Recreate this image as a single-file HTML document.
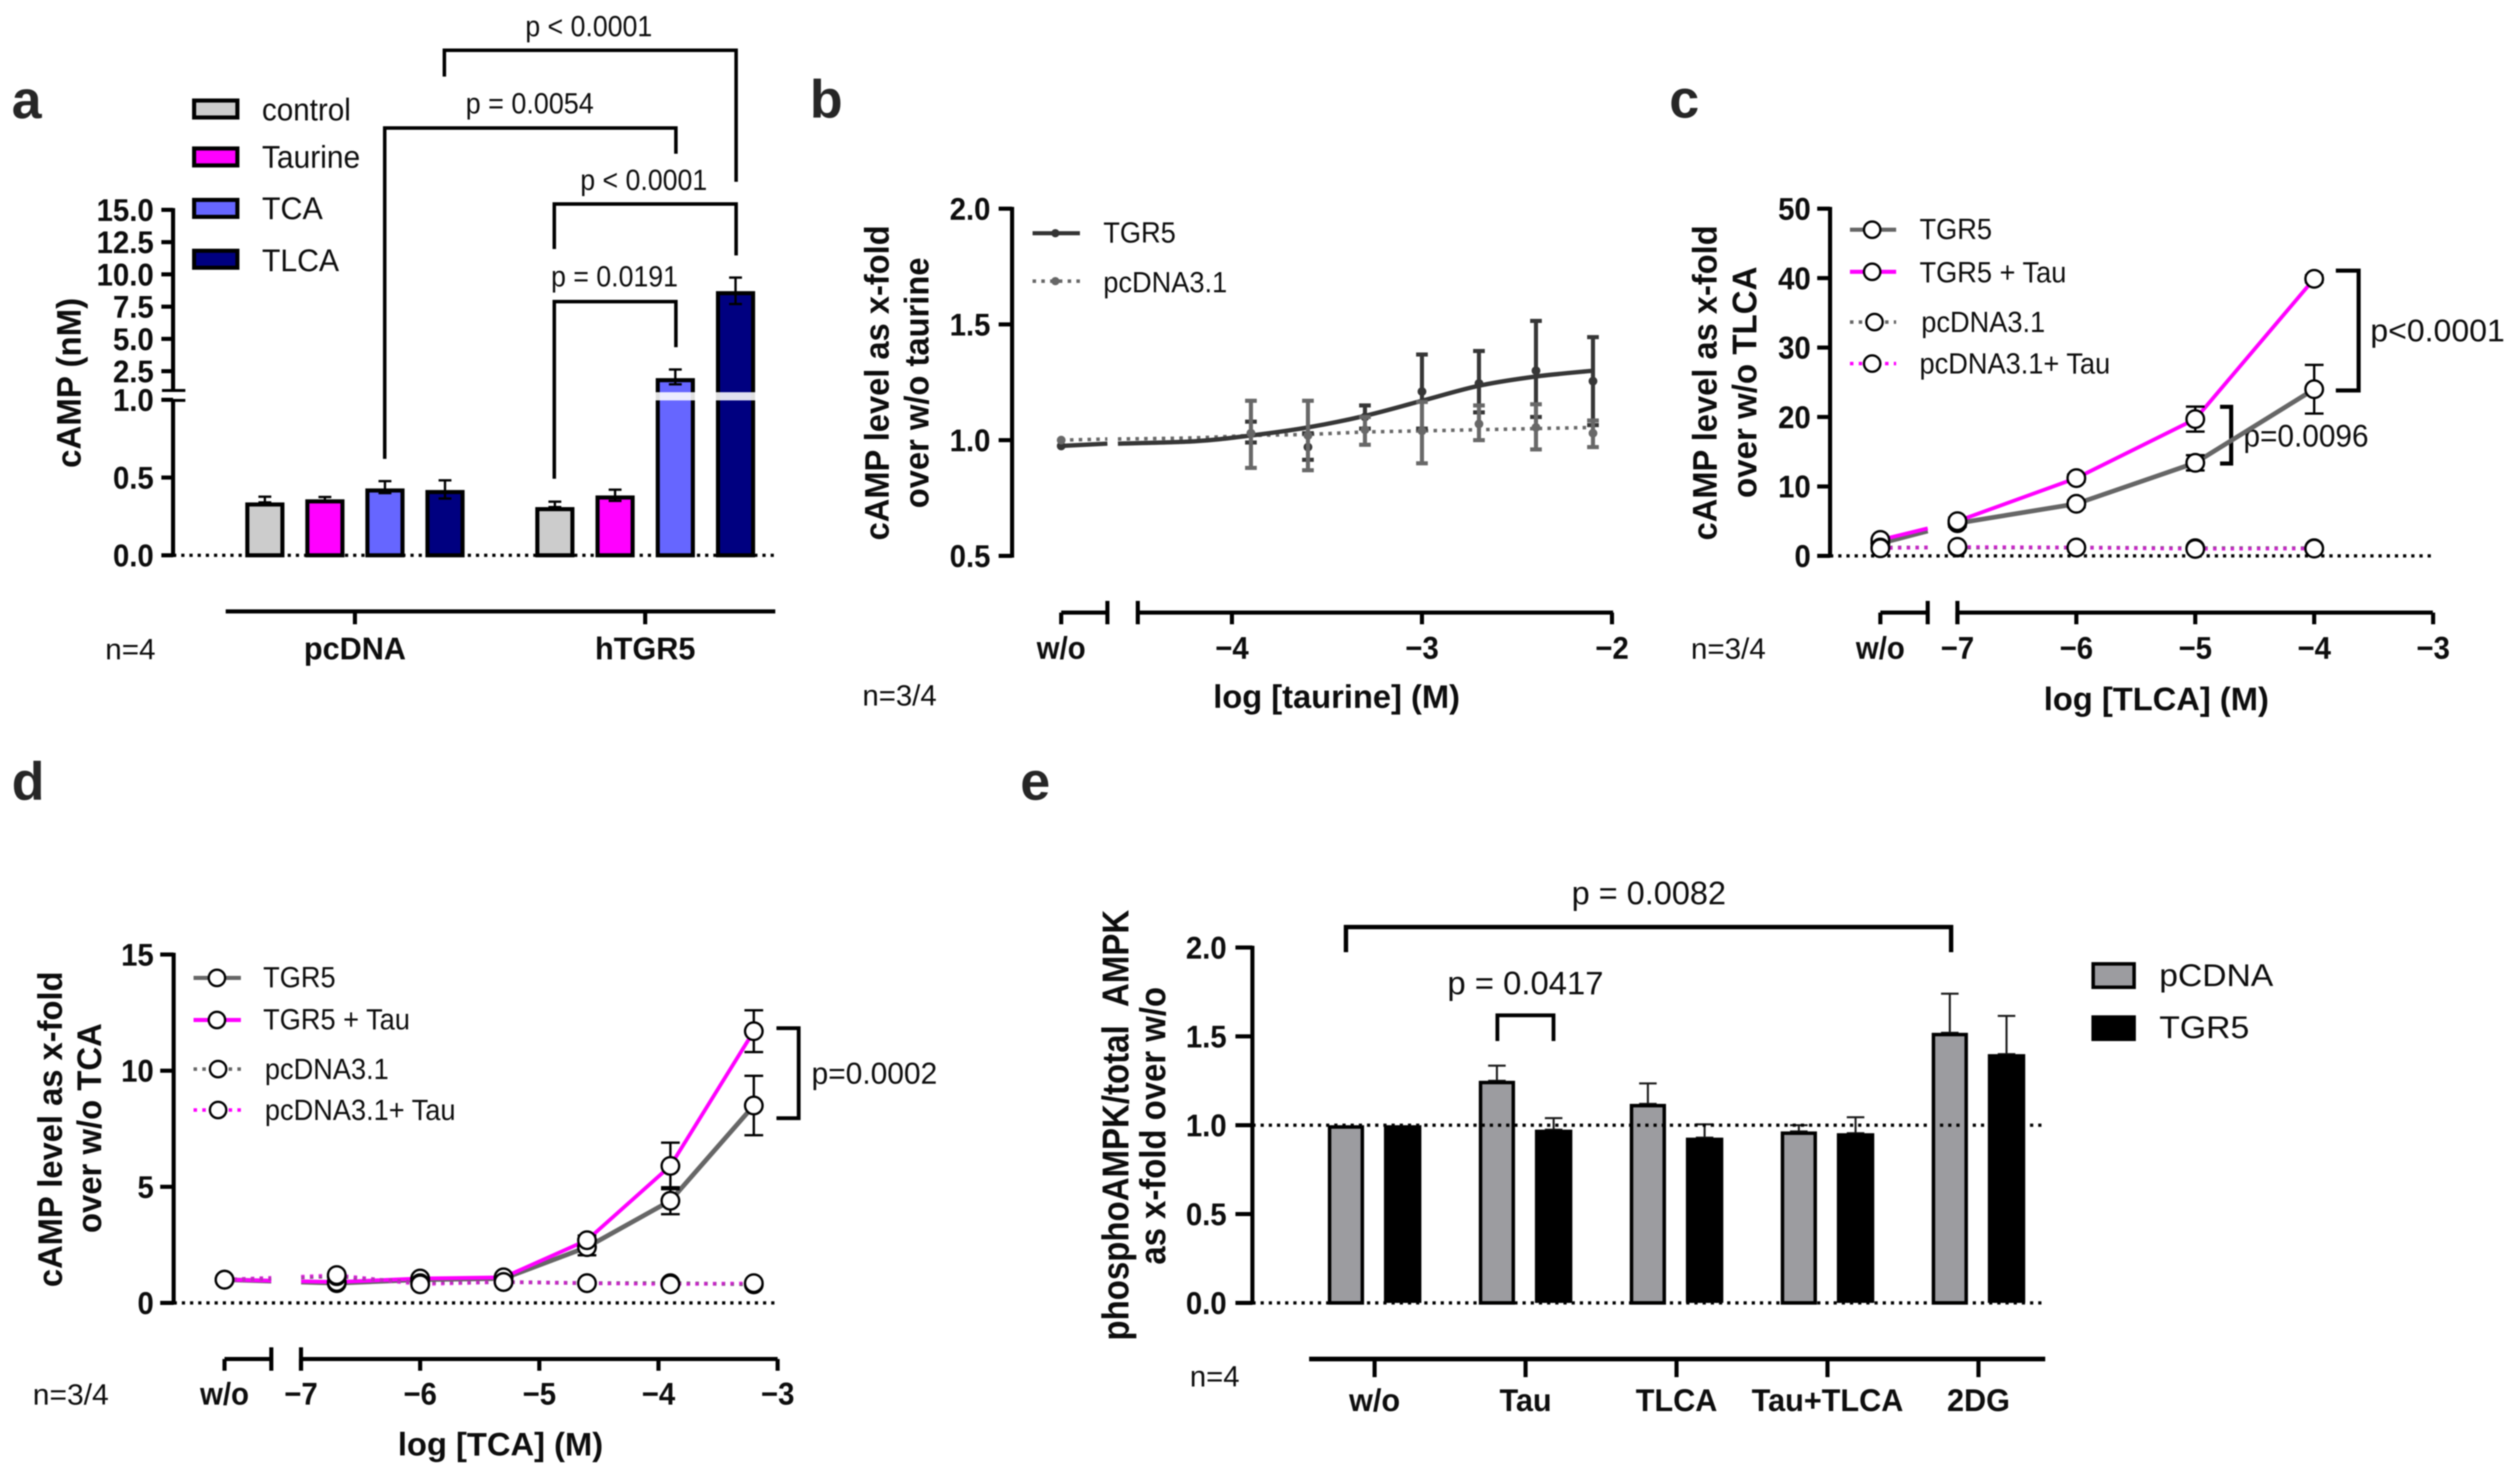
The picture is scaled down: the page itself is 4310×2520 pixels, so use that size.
<!DOCTYPE html>
<html lang="en">
<head>
<meta charset="utf-8">
<title>cAMP and AMPK response panels</title>
<style>
html,body{margin:0;padding:0;background:#fff;width:4310px;height:2520px;overflow:hidden}
svg{display:block;font-family:"Liberation Sans",Arial,sans-serif;filter:blur(1.1px)}
text{fill:#0d0d0d}
.tick{font-size:54px;font-weight:700}
.b{font-weight:700}
.plabel{font-size:92px;font-weight:700;fill:#262626}
.leg{font-size:50px}
.br{stroke:#000;stroke-width:6;fill:none}
</style>
</head>
<body>
<svg id="fig" xmlns="http://www.w3.org/2000/svg" width="4310" height="2520" viewBox="0 0 4310 2520">
<rect width="4310" height="2520" fill="#fff"/>

<!-- PANEL A static -->
<g id="panel-a">
<text class="plabel" x="20" y="202">a</text>
<text class="b" font-size="58" text-anchor="middle" textLength="291" lengthAdjust="spacingAndGlyphs" transform="translate(138 655) rotate(-90)">cAMP (nM)</text>
<g>
<rect x="332" y="172" width="74" height="29" fill="#cccccc" stroke="#000" stroke-width="7"/>
<text x="448" y="206" font-size="54" textLength="152" lengthAdjust="spacingAndGlyphs">control</text>
<rect x="332" y="254" width="74" height="29" fill="#ff00ff" stroke="#000" stroke-width="7"/>
<text x="448" y="287" font-size="54" textLength="168" lengthAdjust="spacingAndGlyphs">Taurine</text>
<rect x="332" y="342" width="74" height="29" fill="#6666ff" stroke="#000" stroke-width="7"/>
<text x="448" y="375" font-size="54" textLength="104" lengthAdjust="spacingAndGlyphs">TCA</text>
<rect x="332" y="429" width="74" height="29" fill="#000080" stroke="#000" stroke-width="7"/>
<text x="448" y="464" font-size="54" textLength="132" lengthAdjust="spacingAndGlyphs">TLCA</text>
</g>
<path class="br" d="M760 131V86H1259V311"/>
<text x="1007" y="62" font-size="50" text-anchor="middle" textLength="217" lengthAdjust="spacingAndGlyphs">p &lt; 0.0001</text>
<path class="br" d="M658 785V219H1156V263"/>
<text x="906" y="194" font-size="50" text-anchor="middle" textLength="219" lengthAdjust="spacingAndGlyphs">p = 0.0054</text>
<path class="br" d="M948 426V349H1259V437"/>
<text x="1101" y="325" font-size="50" text-anchor="middle" textLength="217" lengthAdjust="spacingAndGlyphs">p &lt; 0.0001</text>
<path class="br" d="M948 819V516H1156V594"/>
<text x="1051" y="490" font-size="50" text-anchor="middle" textLength="217" lengthAdjust="spacingAndGlyphs">p = 0.0191</text>
<text x="180" y="1128" font-size="50" textLength="86" lengthAdjust="spacingAndGlyphs">n=4</text>
</g>

<!-- PANEL B static -->
<g id="panel-b">
<text class="plabel" x="1385" y="201">b</text>
<text class="b" font-size="58" text-anchor="middle" textLength="539" lengthAdjust="spacingAndGlyphs" transform="translate(1520 655) rotate(-90)">cAMP level as x-fold</text>
<text class="b" font-size="58" text-anchor="middle" textLength="429" lengthAdjust="spacingAndGlyphs" transform="translate(1588 655) rotate(-90)">over w/o taurine</text>
<text class="b" font-size="56" x="2286" y="1211" text-anchor="middle" textLength="422" lengthAdjust="spacingAndGlyphs">log [taurine] (M)</text>
<text x="1475" y="1207" font-size="50" textLength="127" lengthAdjust="spacingAndGlyphs">n=3/4</text>
<g>
<line x1="1766" x2="1847" y1="399" y2="399" stroke="#333" stroke-width="7"/>
<circle cx="1805" cy="399" r="7" fill="#333"/>
<text class="leg" x="1887" y="415">TGR5</text>
<line x1="1766" x2="1847" y1="481" y2="481" stroke="#666" stroke-width="6" stroke-dasharray="6 9"/>
<circle cx="1805" cy="481" r="7" fill="#666"/>
<text class="leg" x="1887" y="500">pcDNA3.1</text>
</g>
</g>

<!-- PANEL C static -->
<g id="panel-c">
<text class="plabel" x="2855" y="201">c</text>
<text class="b" font-size="58" text-anchor="middle" textLength="539" lengthAdjust="spacingAndGlyphs" transform="translate(2936 655) rotate(-90)">cAMP level as x-fold</text>
<text class="b" font-size="58" text-anchor="middle" textLength="396" lengthAdjust="spacingAndGlyphs" transform="translate(3004 654) rotate(-90)">over w/o TLCA</text>
<text class="b" font-size="56" x="3688" y="1215" text-anchor="middle" textLength="385" lengthAdjust="spacingAndGlyphs">log [TLCA] (M)</text>
<text x="2892" y="1127" font-size="50" textLength="128" lengthAdjust="spacingAndGlyphs">n=3/4</text>
<path d="M3995 463H4034V668H3995" fill="none" stroke="#000" stroke-width="7"/>
<text x="4054" y="584" font-size="54" textLength="230" lengthAdjust="spacingAndGlyphs">p&lt;0.0001</text>
<path d="M3797 696H3816V793H3797" fill="none" stroke="#000" stroke-width="7"/>
<text x="3837" y="764" font-size="54" textLength="214" lengthAdjust="spacingAndGlyphs">p=0.0096</text>
<g>
<line x1="3164" x2="3243" y1="393" y2="393" stroke="#666" stroke-width="7"/>
<ellipse cx="3202" cy="393" rx="14" ry="14" fill="#fff" stroke="#000" stroke-width="4"/>
<text class="leg" x="3283" y="409">TGR5</text>
<line x1="3164" x2="3243" y1="465" y2="465" stroke="#ff00ff" stroke-width="7"/>
<ellipse cx="3202" cy="465" rx="14" ry="14" fill="#fff" stroke="#000" stroke-width="4"/>
<text class="leg" x="3283" y="483">TGR5 + Tau</text>
<line x1="3164" x2="3243" y1="551" y2="551" stroke="#666" stroke-width="6" stroke-dasharray="6 9"/>
<ellipse cx="3206" cy="551" rx="14" ry="14" fill="#fff" stroke="#000" stroke-width="4"/>
<text class="leg" x="3286" y="568">pcDNA3.1</text>
<line x1="3164" x2="3243" y1="622" y2="622" stroke="#ff00ff" stroke-width="6" stroke-dasharray="6 9"/>
<ellipse cx="3202" cy="622" rx="14" ry="14" fill="#fff" stroke="#000" stroke-width="4"/>
<text class="leg" x="3283" y="639">pcDNA3.1+ Tau</text>
</g>
</g>

<!-- PANEL D static -->
<g id="panel-d">
<text class="plabel" x="20" y="1368">d</text>
<text class="b" font-size="58" text-anchor="middle" textLength="540" lengthAdjust="spacingAndGlyphs" transform="translate(106 1932) rotate(-90)">cAMP level as x-fold</text>
<text class="b" font-size="58" text-anchor="middle" textLength="359" lengthAdjust="spacingAndGlyphs" transform="translate(173 1930) rotate(-90)">over w/o TCA</text>
<text class="b" font-size="56" x="856" y="2490" text-anchor="middle" textLength="351" lengthAdjust="spacingAndGlyphs">log [TCA] (M)</text>
<text x="56" y="2403" font-size="50" textLength="130" lengthAdjust="spacingAndGlyphs">n=3/4</text>
<path d="M1328 1759H1366V1913H1328" fill="none" stroke="#000" stroke-width="6.5"/>
<text x="1388" y="1854" font-size="52" textLength="215" lengthAdjust="spacingAndGlyphs">p=0.0002</text>
<g>
<line x1="331" x2="412" y1="1673" y2="1673" stroke="#666" stroke-width="7"/>
<ellipse cx="371" cy="1673" rx="14" ry="14" fill="#fff" stroke="#000" stroke-width="4"/>
<text class="leg" x="450" y="1689">TGR5</text>
<line x1="331" x2="412" y1="1745" y2="1745" stroke="#ff00ff" stroke-width="7"/>
<ellipse cx="371" cy="1745" rx="14" ry="14" fill="#fff" stroke="#000" stroke-width="4"/>
<text class="leg" x="450" y="1761">TGR5 + Tau</text>
<line x1="331" x2="412" y1="1829" y2="1829" stroke="#666" stroke-width="6" stroke-dasharray="6 9"/>
<ellipse cx="373" cy="1829" rx="14" ry="14" fill="#fff" stroke="#000" stroke-width="4"/>
<text class="leg" x="453" y="1846">pcDNA3.1</text>
<line x1="331" x2="412" y1="1899" y2="1899" stroke="#ff00ff" stroke-width="6" stroke-dasharray="6 9"/>
<ellipse cx="373" cy="1899" rx="14" ry="14" fill="#fff" stroke="#000" stroke-width="4"/>
<text class="leg" x="453" y="1916">pcDNA3.1+ Tau</text>
</g>
</g>

<!-- PANEL E static -->
<g id="panel-e">
<text class="plabel" x="1745" y="1368">e</text>
<text class="b" font-size="64" text-anchor="middle" textLength="737" lengthAdjust="spacingAndGlyphs" transform="translate(1930 1925) rotate(-90)">phosphoAMPK/total&#160;&#160;AMPK</text>
<text class="b" font-size="62" text-anchor="middle" textLength="475" lengthAdjust="spacingAndGlyphs" transform="translate(1993 1926) rotate(-90)">as x-fold over w/o</text>
<text x="2035" y="2372" font-size="50" textLength="85" lengthAdjust="spacingAndGlyphs">n=4</text>
<path d="M2302 1629V1586H3337V1629" fill="none" stroke="#000" stroke-width="7.5"/>
<text x="2820" y="1547" font-size="56" text-anchor="middle" textLength="264" lengthAdjust="spacingAndGlyphs">p = 0.0082</text>
<path d="M2561 1781V1737H2657V1781" fill="none" stroke="#000" stroke-width="6.5"/>
<text x="2609" y="1701" font-size="56" text-anchor="middle" textLength="267" lengthAdjust="spacingAndGlyphs">p = 0.0417</text>
<g>
<rect x="3580" y="1649" width="70" height="40" fill="#9c9ca0" stroke="#000" stroke-width="6"/>
<text x="3693" y="1687" font-size="54" textLength="195" lengthAdjust="spacingAndGlyphs">pCDNA</text>
<rect x="3577" y="1737" width="76" height="44" fill="#000"/>
<text x="3693" y="1776" font-size="54" textLength="154" lengthAdjust="spacingAndGlyphs">TGR5</text>
</g>
</g>
</svg>

<script>
/* ---------- Panel a data ---------- */
const aGroups = ['pcDNA', 'hTGR5'];
const aTreatments = ['control', 'Taurine', 'TCA', 'TLCA'];
const aColors = ['#cccccc', '#ff00ff', '#6666ff', '#000080'];
const aValues = [0.34, 0.36, 0.43, 0.42, 0.31, 0.385, 1.96, 8.7];
const aErrHigh = [0.377, 0.375, 0.477, 0.482, 0.345, 0.422, 2.63, 9.75];
const aErrLow = [0.34, 0.345, 0.40, 0.365, 0.31, 0.35, 1.48, 7.7];
const aTicksLower = [0, 0.5, 1.0];
const aTicksUpper = [2.5, 5, 7.5, 10, 12.5, 15];

/* ---------- Panel b data ---------- */
const bDoses = [-3.9, -3.6, -3.3, -3, -2.7, -2.4, -2.1];
const bTgr5Mean = [1.03, 0.97, 1.10, 1.21, 1.245, 1.30, 1.255];
const bTgr5High = [1.08, 1.03, 1.15, 1.37, 1.385, 1.515, 1.445];
const bTgr5Low = [0.99, 0.915, 1.05, 1.05, 1.12, 1.10, 1.065];
const bPcdnaMean = [1.03, 1.02, 1.045, 1.04, 1.07, 1.055, 1.03];
const bPcdnaHigh = [1.17, 1.17, 1.10, 1.165, 1.15, 1.155, 1.085];
const bPcdnaLow = [0.88, 0.87, 0.98, 0.90, 1.0, 0.96, 0.97];
const bCurveDoses = [-4.6, -4.2, -3.9, -3.6, -3.3, -3, -2.7, -2.4, -2.1];
const bTgr5Curve = [0.985, 0.995, 1.02, 1.055, 1.105, 1.17, 1.235, 1.275, 1.30];
const bPcdnaCurve = [1.005, 1.01, 1.02, 1.025, 1.035, 1.04, 1.045, 1.05, 1.055];
const bTgr5Wo = [0.975, 0.985];
const bPcdnaWo = [1.0, 1.005];
const bWoTgr5 = 0.975;
const bWoPcdna = 1.0;
const bYTicks = [0.5, 1.0, 1.5, 2.0];
const bXTicks = [-4, -3, -2];

/* ---------- Panel c data ---------- */
const cDoses = ['w/o', -7, -6, -5, -4];
const cTgr5 = [1.8, 4.7, 7.5, 13.4, 24];
const cTgr5Err = [0.4, 0.5, 0.5, 1.1, 3.5];
const cTgr5Tau = [2.3, 5.0, 11.2, 19.7, 39.9];
const cTgr5TauErr = [0.3, 0.5, 0.5, 1.8, 0.5];
const cPcdna = [1.2, 1.2, 1.2, 1.1, 1.1];
const cPcdnaTau = [1.1, 1.3, 1.2, 1.0, 1.05];
const cYTicks = [0, 10, 20, 30, 40, 50];
const cXTicks = [-7, -6, -5, -4, -3];

/* ---------- Panel d data ---------- */
const dDoses = ['w/o', -6.7, -6, -5.3, -4.6, -3.9, -3.2];
const dTgr5 = [1.0, 0.85, 1.0, 1.05, 2.4, 4.4, 8.5];
const dTgr5Err = [0.05, 0.1, 0.1, 0.1, 0.35, 0.58, 1.28];
const dTgr5Tau = [1.0, 0.9, 1.05, 1.1, 2.7, 5.9, 11.7];
const dTgr5TauErr = [0.05, 0.1, 0.1, 0.1, 0.2, 1.0, 0.9];
const dPcdna = [1.0, 1.15, 0.85, 0.9, 0.85, 0.85, 0.8];
const dPcdnaTau = [1.0, 1.2, 0.8, 0.9, 0.85, 0.8, 0.85];
const dYTicks = [0, 5, 10, 15];
const dXTicks = [-7, -6, -5, -4, -3];

/* ---------- Panel e data ---------- */
const eCategories = ['w/o', 'Tau', 'TLCA', 'Tau+TLCA', '2DG'];
const ePcdna = [1.0, 1.25, 1.12, 0.965, 1.52];
const ePcdnaErr = [0, 0.085, 0.115, 0.035, 0.22];
const eTgr5 = [1.0, 0.975, 0.93, 0.955, 1.40];
const eTgr5Err = [0, 0.065, 0.075, 0.09, 0.215];
const eYTicks = [0, 0.5, 1.0, 1.5, 2.0];

/* ---------- Axis functions ---------- */
function aY(v) { return v <= 1.0 ? 950 - 266 * v : 635 + (2.5 - v) * 22.08; }
function aX(i) { return i < 4 ? 453 + i * 102.7 : 949 + (i - 4) * 103; }
function bY(v) { return 753 - (v - 1) * 396; }
function bX(d) { return d === 'w/o' ? 1815 : 2432 + (d + 3) * 325; }
function cY(v) { return 951 - v * 11.88; }
function cX(d) { return d === 'w/o' ? 3216 : 3958 + (d + 4) * 203.4; }
function dY(v) { return 2229 - v * 39.73; }
function dX(d) { return d === 'w/o' ? 384 : 1330 + (d + 3) * 203.8; }
function eY(v) { return 2229 - v * 304; }
function eX(i) { return 2351 + i * 258.2; }

/* ---------- Drawing helpers ---------- */
const NS = 'http://www.w3.org/2000/svg';
const AXIS_W = 7;
function mk(tag, attrs, parent, txt) {
  const n = document.createElementNS(NS, tag);
  for (const k in attrs) n.setAttribute(k, attrs[k]);
  if (txt !== undefined) n.textContent = txt;
  parent.appendChild(n);
  return n;
}
function squeeze(el, factor) {
  const len = el.getComputedTextLength();
  if (len > 0) {
    el.setAttribute('textLength', (len * factor).toFixed(1));
    el.setAttribute('lengthAdjust', 'spacingAndGlyphs');
  }
}
function drawAxisLine(parent, x1, y1, x2, y2, w) {
  const el = mk('line', { x1: x1, y1: y1, x2: x2, y2: y2, stroke: '#000', 'stroke-width': w || AXIS_W }, parent);
  
  
  return el;
}
function drawYTick(parent, axisX, y, label, len, labelX) {
  const t = mk('line', { x1: axisX - len, x2: axisX, y1: y, y2: y, stroke: '#000', 'stroke-width': AXIS_W }, parent);
  
  
  const el = mk('text', { x: labelX, y: y + 19, 'text-anchor': 'end', class: 'tick' }, parent, label);
  
  
  squeeze(el, 0.93);
}
function drawXTick(parent, x, axisY, bottomLen, topLen, label, labelY, fit) {
  const t = mk('line', { x1: x, x2: x, y1: axisY - topLen, y2: axisY + bottomLen, stroke: '#000', 'stroke-width': AXIS_W }, parent);
  
  
  if (label !== null) {
    const el = mk('text', { x: x, y: labelY, 'text-anchor': 'middle', class: 'tick' }, parent, label);
    
    
    squeeze(el, fit || 0.93);
  }
}
function drawDotted(parent, x1, x2, y) {
  const el = mk('line', { x1: x1, x2: x2, y1: y, y2: y, stroke: '#000', 'stroke-width': 5.5, 'stroke-dasharray': '5.5 8.5' }, parent);
  
  
}
function drawBar(parent, cx, yTop, yBase, width, fill, sw) {
  const el = mk('rect', { x: cx - width / 2, y: yTop + sw / 2, width: width, height: Math.max(0, yBase - yTop - sw / 2), fill: fill, stroke: '#000', 'stroke-width': sw }, parent);
  
  
}
function drawError(parent, x, yHigh, yLow, cap, color, w) {
  const s = mk('line', { x1: x, x2: x, y1: yHigh, y2: yLow, stroke: color, 'stroke-width': w }, parent);
  
  
  const h = mk('line', { x1: x - cap, x2: x + cap, y1: yHigh, y2: yHigh, stroke: color, 'stroke-width': w }, parent);
  
  
  const l = mk('line', { x1: x - cap, x2: x + cap, y1: yLow, y2: yLow, stroke: color, 'stroke-width': w }, parent);
  
  
}
function drawOpenPoint(parent, x, y) {
  const el = mk('circle', { cx: x, cy: y, r: 15, fill: '#fff', stroke: '#000', 'stroke-width': 4 }, parent);
  
  
}
function drawDot(parent, x, y, color) {
  const el = mk('circle', { cx: x, cy: y, r: 7.5, fill: color }, parent);
  
  
}
/* Polyline through the doses; the first span is cut by the axis gap. */
function drawBrokenLine(parent, doses, vals, xFn, yFn, gap1, gap2, color, w, dash, op) {
  const x0 = xFn(doses[0]), y0 = yFn(vals[0]);
  const x1 = xFn(doses[1]), y1 = yFn(vals[1]);
  const lerp = function (x) { return y0 + (y1 - y0) * (x - x0) / (x1 - x0); };
  let a = 'M' + x0 + ' ' + y0 + 'L' + gap1 + ' ' + lerp(gap1);
  a += 'M' + gap2 + ' ' + lerp(gap2);
  for (let i = 1; i < doses.length; i++) a += 'L' + xFn(doses[i]) + ' ' + yFn(vals[i]);
  const el = mk('path', { d: a, fill: 'none', stroke: color, 'stroke-width': w, 'stroke-dasharray': dash || 'none', 'stroke-linejoin': 'round', opacity: op || 1 }, parent);
  
  
}
function smoothPath(pts) {
  let d = 'M' + pts[0][0] + ' ' + pts[0][1];
  for (let i = 0; i < pts.length - 1; i++) {
    const p0 = pts[Math.max(0, i - 1)], p1 = pts[i], p2 = pts[i + 1], p3 = pts[Math.min(pts.length - 1, i + 2)];
    d += 'C' + (p1[0] + (p2[0] - p0[0]) / 6) + ' ' + (p1[1] + (p2[1] - p0[1]) / 6) + ' ' + (p2[0] - (p3[0] - p1[0]) / 6) + ' ' + (p2[1] - (p3[1] - p1[1]) / 6) + ' ' + p2[0] + ' ' + p2[1];
  }
  return d;
}
function fmtDose(d) { return '\u2212' + Math.abs(d); }

/* ---------- Panel a ---------- */
(function () {
  const g = document.getElementById('panel-a');
  aValues.forEach(function (v, i) {
    drawBar(g, aX(i), aY(v), aY(0), 60, aColors[i % 4], 7);
    if (v > 1.0) {
      const band = mk('rect', { x: aX(i) - 34, y: 671, width: 68, height: 14, fill: '#fff', opacity: 0.88 }, g);
      
      
    }
    drawError(g, aX(i), aY(aErrHigh[i]), aY(aErrLow[i]), 11, '#000', 4);
  });
  drawDotted(g, 296, 1326, aY(0));
  drawAxisLine(g, 296, aY(15) - 3, 296, 668);
  drawAxisLine(g, 296, 685, 296, aY(0) + 3);
  aTicksLower.forEach(function (v) { drawYTick(g, 296, aY(v), v.toFixed(1), 20, 263); });
  aTicksUpper.forEach(function (v) { drawYTick(g, 296, aY(v), v.toFixed(1), 20, 263); });
  drawAxisLine(g, 277, 668, 317, 668, 5);
  drawAxisLine(g, 277, 685, 317, 685, 5);
  drawAxisLine(g, 386, 1046, 1326, 1046);
  aGroups.forEach(function (name, i) {
    const cx = (aX(i * 4) + aX(i * 4 + 3)) / 2;
    drawXTick(g, cx, 1046, 22, 0, name, 1128, 0.97);
  });
})();

/* ---------- Panel b ---------- */
(function () {
  const g = document.getElementById('panel-b');
  const dark = '#363636', grey = '#686868';
  drawAxisLine(g, 1731, bY(2) - 3, 1731, bY(0.5) + 3);
  bYTicks.forEach(function (v) { drawYTick(g, 1731, bY(v), v.toFixed(1), 23, 1694); });
  drawAxisLine(g, 1815, 1048, 1894, 1048);
  drawAxisLine(g, 1946, 1048, 2759, 1048);
  drawXTick(g, 1815, 1048, 20, 0, 'w/o', 1127);
  drawXTick(g, 1894, 1048, 20, 20, null, 0);
  drawXTick(g, 1946, 1048, 20, 20, null, 0);
  bXTicks.forEach(function (d) { drawXTick(g, bX(d), 1048, 20, 0, fmtDose(d), 1127); });

  const pcCurve = bCurveDoses.map(function (d, i) { return [bX(d), bY(bPcdnaCurve[i])]; });
  const pc = mk('path', { d: smoothPath(pcCurve), fill: 'none', stroke: grey, 'stroke-width': 6, 'stroke-dasharray': '6 9' }, g);
  
  
  const pcWo = mk('line', { x1: 1815, x2: 1894, y1: bY(bPcdnaWo[0]), y2: bY(bPcdnaWo[1]), stroke: grey, 'stroke-width': 6, 'stroke-dasharray': '6 9' }, g);
  
  

  bDoses.forEach(function (d, i) {
    drawError(g, bX(d), bY(bTgr5High[i]), bY(bTgr5Low[i]), 10, dark, 7);
    drawDot(g, bX(d), bY(bTgr5Mean[i]), dark);
  });
  const tgCurve = bCurveDoses.map(function (d, i) { return [bX(d), bY(bTgr5Curve[i])]; });
  const tg = mk('path', { d: smoothPath(tgCurve), fill: 'none', stroke: dark, 'stroke-width': 7.5 }, g);
  
  
  const tgWo = mk('line', { x1: 1815, x2: 1894, y1: bY(bTgr5Wo[0]), y2: bY(bTgr5Wo[1]), stroke: dark, 'stroke-width': 7.5 }, g);
  
  
  bDoses.forEach(function (d, i) {
    drawError(g, bX(d), bY(bPcdnaHigh[i]), bY(bPcdnaLow[i]), 10, grey, 7);
    drawDot(g, bX(d), bY(bPcdnaMean[i]), grey);
  });
  drawDot(g, bX('w/o'), bY(bWoTgr5), dark);
  drawDot(g, bX('w/o'), bY(bWoPcdna), grey);
})();

/* ---------- Panels c and d share a structure ---------- */
function drawDose(g, doses, s1, s1e, s2, s2e, s3, s4, xFn, yFn, gap1, gap2) {
  drawBrokenLine(g, doses, s1, xFn, yFn, gap1, gap2, '#666', 8);
  drawBrokenLine(g, doses, s2, xFn, yFn, gap1, gap2, '#ff00ff', 6.5);
  drawBrokenLine(g, doses, s3, xFn, yFn, gap1, gap2, '#666', 6.5, '6 9');
  drawBrokenLine(g, doses, s4, xFn, yFn, gap1, gap2, '#ff00ff', 6.5, '6 9', 0.6);
  doses.forEach(function (d, i) {
    drawError(g, xFn(d), yFn(s1[i] + s1e[i]), yFn(s1[i] - s1e[i]), 16, '#000', 4);
    drawError(g, xFn(d), yFn(s2[i] + s2e[i]), yFn(s2[i] - s2e[i]), 16, '#000', 4);
  });
  doses.forEach(function (d, i) {
    drawOpenPoint(g, xFn(d), yFn(s1[i]));
    drawOpenPoint(g, xFn(d), yFn(s2[i]));
    drawOpenPoint(g, xFn(d), yFn(s3[i]));
    drawOpenPoint(g, xFn(d), yFn(s4[i]));
  });
}

(function () {
  const g = document.getElementById('panel-c');
  drawDotted(g, 3130, 4158, cY(0));
  drawAxisLine(g, 3130, cY(50) - 3, 3130, cY(0) + 3);
  cYTicks.forEach(function (v) { drawYTick(g, 3130, cY(v), String(v), 22, 3097); });
  drawAxisLine(g, 3216, 1048, 3297, 1048);
  drawAxisLine(g, 3348, 1048, 4161, 1048);
  drawXTick(g, 3216, 1048, 20, 0, 'w/o', 1127);
  drawXTick(g, 3297, 1048, 20, 20, null, 0);
  drawXTick(g, cX(-7), 1048, 20, 20, null, 0);
  cXTicks.forEach(function (d) { drawXTick(g, cX(d), 1048, 20, 0, fmtDose(d), 1127); });
  drawDose(g, cDoses, cTgr5, cTgr5Err, cTgr5Tau, cTgr5TauErr, cPcdna, cPcdnaTau, cX, cY, 3297, 3335);
})();

(function () {
  const g = document.getElementById('panel-d');
  drawDotted(g, 297, 1328, dY(0));
  drawAxisLine(g, 297, dY(15) - 3, 297, dY(0) + 3);
  dYTicks.forEach(function (v) { drawYTick(g, 297, dY(v), String(v), 23, 263); });
  drawAxisLine(g, 384, 2325, 464, 2325);
  drawAxisLine(g, 515, 2325, 1330, 2325);
  drawXTick(g, 384, 2325, 20, 0, 'w/o', 2403);
  drawXTick(g, 464, 2325, 20, 20, null, 0);
  drawXTick(g, dX(-7), 2325, 20, 20, null, 0);
  dXTicks.forEach(function (d) { drawXTick(g, dX(d), 2325, 20, 0, fmtDose(d), 2403); });
  drawDose(g, dDoses, dTgr5, dTgr5Err, dTgr5Tau, dTgr5TauErr, dPcdna, dPcdnaTau, dX, dY, 464, 515);
})();

/* ---------- Panel e ---------- */
(function () {
  const g = document.getElementById('panel-e');
  eCategories.forEach(function (name, i) {
    const gx = eX(i) - 49, kx = eX(i) + 48;
    if (ePcdnaErr[i] > 0) drawError(g, gx, eY(ePcdna[i] + ePcdnaErr[i]), eY(ePcdna[i]), 15, '#1a1a1a', 3.5);
    if (eTgr5Err[i] > 0) drawError(g, kx, eY(eTgr5[i] + eTgr5Err[i]), eY(eTgr5[i]), 15, '#1a1a1a', 3.5);
    drawBar(g, gx, eY(ePcdna[i]), eY(0), 56, '#9c9ca0', 6);
    drawBar(g, kx, eY(eTgr5[i]), eY(0), 64, '#000', 0);
  });
  drawDotted(g, 2142, 3495, eY(1));
  drawDotted(g, 2142, 3495, eY(0));
  drawAxisLine(g, 2142, eY(2) - 3, 2142, eY(0) + 3);
  eYTicks.forEach(function (v) { drawYTick(g, 2142, eY(v), v.toFixed(1), 29, 2098); });
  drawAxisLine(g, 2239, 2325, 3498, 2325, 8);
  eCategories.forEach(function (name, i) { drawXTick(g, eX(i), 2325, 31, 0, name, 2414, 0.97); });
})();

/* Legend labels share the condensed proportions of the reference. */
document.querySelectorAll('text.leg').forEach(function (el) { squeeze(el, 0.93); });
</script>
</body>
</html>
